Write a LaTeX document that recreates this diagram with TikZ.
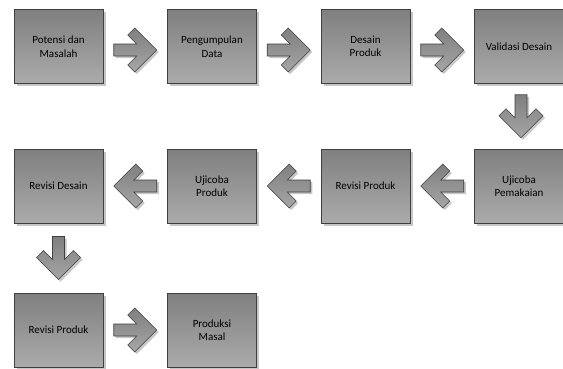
\documentclass[tikz,border=0pt]{standalone}
\usepackage{fontspec}
\setmainfont{Carlito}
\usetikzlibrary{positioning,calc,shadows}

\tikzset{
  box/.style={draw=black!75,line width=0.6pt,top color=black!50,bottom color=black!33,
    minimum width=89pt,minimum height=74pt,inner sep=2pt,align=center,
    font=\fontsize{11}{13.5}\selectfont,
    drop shadow={shadow xshift=2.5pt,shadow yshift=-2.5pt,fill=black!22,opacity=1}},
  arrowbody/.style={draw=black!75,line width=0.6pt,top color=black!50,bottom color=black!35,
    drop shadow={shadow xshift=2pt,shadow yshift=-2pt,fill=black!22,opacity=1}},
  chev/.pic={
    \path[arrowbody] (21.5,0) -- (-0.5,22) -- (-7.5,15) -- (1.5,6) -- (-21.5,6)
      -- (-21.5,-6) -- (1.5,-6) -- (-7.5,-15) -- (-0.5,-22) -- cycle;
  }
}

\begin{document}
\begin{tikzpicture}[x=1pt,y=1pt,node distance=153.5pt]
    \useasboundingbox (0,0) rectangle (563,-368);

    % baris pertama
    \node[box] (potensi) at (58.5,-46.5) {Potensi dan\\Masalah};
    \node[box,right of = potensi] (kumpul) {Pengumpulan\\Data};
    \node[box,right of = kumpul] (desain) {Desain\\Produk};
    \node[box,right of = desain] (validasi) {Validasi Desain};

    % baris kedua
    \node[box,below of = validasi,yshift=14pt] (pakai) {Ujicoba\\Pemakaian};
    \node[box,left of = pakai] (revprod) {Revisi Produk};
    \node[box,left of = revprod] (ujiprod) {Ujicoba\\Produk};
    \node[box,left of = ujiprod] (revdes) {Revisi Desain};

    % baris ketiga
    \node[box,below of = revdes,yshift=9.5pt] (revprod2) {Revisi Produk};
    \node[box,right of = revprod2] (masal) {Produksi\\Masal};

    % panah
    \pic[yshift=-3.5pt] at ($(potensi.east)!.5!(kumpul.west)$) {chev};
    \pic[yshift=-3.5pt] at ($(kumpul.east)!.5!(desain.west)$) {chev};
    \pic[yshift=-3.5pt] at ($(desain.east)!.5!(validasi.west)$) {chev};
    \pic[xshift=2pt,rotate=-90] at ($(validasi.south)!.5!(pakai.north)$) {chev};
    \pic[rotate=180] at ($(pakai.west)!.5!(revprod.east)$) {chev};
    \pic[rotate=180] at ($(revprod.west)!.5!(ujiprod.east)$) {chev};
    \pic[rotate=180] at ($(ujiprod.west)!.5!(revdes.east)$) {chev};
    \pic[rotate=-90] at ($(revdes.south)!.5!(revprod2.north)$) {chev};
    \pic at ($(revprod2.east)!.5!(masal.west)$) {chev};
\end{tikzpicture}
\end{document}
